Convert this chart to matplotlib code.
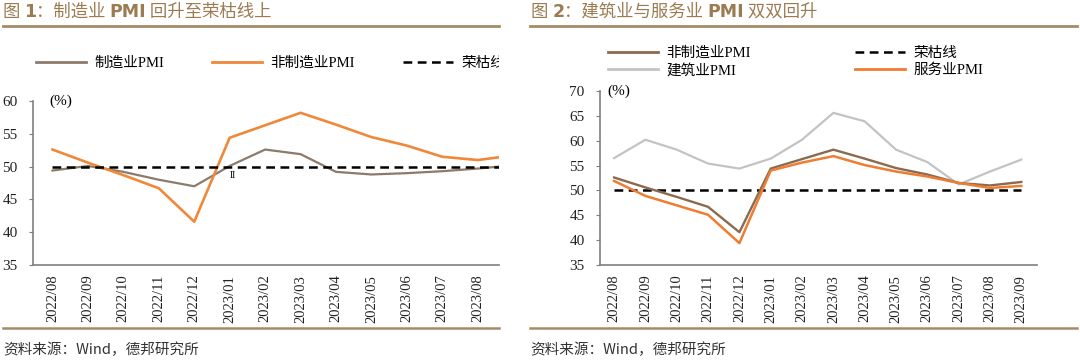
import matplotlib
matplotlib.use("Agg")
import matplotlib.pyplot as plt
from matplotlib.lines import Line2D
from matplotlib.transforms import Bbox

plt.rcParams['font.family'] = ['Liberation Serif', 'Noto Sans CJK SC']

# 数据
months_left = ["2022/08", "2022/09", "2022/10", "2022/11", "2022/12", "2023/01", "2023/02",
               "2023/03", "2023/04", "2023/05", "2023/06", "2023/07", "2023/08"]
months_right = months_left + ["2023/09"]

mfg_pmi = [49.4, 50.1, 49.2, 48.0, 47.0, 50.1, 52.6, 51.9, 49.2, 48.8, 49.0, 49.3, 49.7, 50.2]
non_mfg_pmi = [52.6, 50.6, 48.7, 46.7, 41.6, 54.4, 56.3, 58.2, 56.4, 54.5, 53.2, 51.5, 51.0, 51.7]
constr_pmi = [56.5, 60.2, 58.2, 55.4, 54.4, 56.4, 60.2, 65.6, 63.9, 58.2, 55.7, 51.2, 53.8, 56.2]
serv_pmi = [51.9, 48.9, 47.0, 45.1, 39.4, 54.0, 55.6, 56.9, 55.1, 53.8, 52.8, 51.5, 50.5, 50.9]
boom_line = [50] * 14

C_MFG = "#8c7b6b"
C_ORANGE = "#f0883a"
C_NONMFG = "#8b6a4f"
C_CONSTR = "#c3c3c3"
C_SERV = "#ee7d31"
C_TITLE = "#9b7b52"
C_RULE = "#a58c68"
CJK = ['Noto Sans CJK SC', 'DejaVu Sans']

W, H = 1080, 360
fig = plt.figure(figsize=(10.8, 3.6), dpi=100)


def px_box(x0, x1, ytop, ybot):
    return [x0 / W, 1 - ybot / H, (x1 - x0) / W, (ybot - ytop) / H]


def rule(x0, x1, y, lw=2.0):
    fig.add_artist(Line2D([x0 / W, x1 / W], [1 - y / H, 1 - y / H], transform=fig.transFigure,
                          color=C_RULE, lw=lw))


def title(ax, x, y, parts):
    prev = fig.text(x / W, 1 - y / H, parts[0][0], fontsize=12.5, color=C_TITLE,
                    family=CJK, va='center', fontweight='bold' if parts[0][1] else 'normal')
    for txt, bold in parts[1:]:
        prev = ax.annotate(txt, xy=(1, 0.5), xycoords=prev, va='center', ha='left',
                           fontsize=12.5, color=C_TITLE, family=CJK if not bold else ['DejaVu Sans'],
                           fontweight='bold' if bold else 'normal', annotation_clip=False)


def style_axes(ax, ymin, ymax, labels, xmax):
    ax.set_ylim(ymin, ymax)
    ax.set_yticks(range(ymin, ymax + 1, 5))
    ax.set_xlim(-0.55, xmax)
    ax.set_xticks(range(len(labels)))
    ax.set_xticklabels(labels, rotation=90, fontsize=10.5)
    for s in ['top', 'right']:
        ax.spines[s].set_visible(False)
    for s in ['left', 'bottom']:
        ax.spines[s].set_color("#7f7f7f")
        ax.spines[s].set_linewidth(1.2)
    ax.tick_params(axis='y', length=3, color="#7f7f7f", labelsize=11, pad=8, labelcolor="#222222")
    ax.tick_params(axis='x', length=0, pad=7, labelcolor="#222222")


def one_legend(handles, labels, x, y, spacing=0.3):
    lg = fig.legend(handles=handles, labels=labels, loc='center left',
                    bbox_to_anchor=(x / W, 1 - y / H), bbox_transform=fig.transFigure,
                    frameon=False, borderpad=0, borderaxespad=0, handlelength=3.4,
                    handletextpad=0.6, labelspacing=spacing, prop={'family': ['Liberation Serif', 'Noto Sans CJK SC'], 'size': 10.5})
    return lg


# ---------------- 图1 ----------------
ax1 = fig.add_axes(px_box(33, 499, 101, 265))
x = range(len(mfg_pmi))
ax1.plot(x, mfg_pmi, color=C_MFG, lw=1.6)
ax1.plot(x, non_mfg_pmi, color=C_ORANGE, lw=1.9)
ax1.plot(x, boom_line, color="black", lw=1.8, dashes=(3.5, 2.2))
style_axes(ax1, 35, 60, months_left, 12.6)
ax1.text(0.036, 1.0, "(%)", transform=ax1.transAxes, fontsize=11, va='center')
ax1.text(5.1, 48.6, "II", fontsize=7, ha='center', va='center')

title(ax1, 3, 12, [("图 ", False), ("1", True), ("：制造业 ", False), ("PMI", True), (" 回升至荣枯线上", False)])
rule(3, 499, 26)
rule(3, 499, 328, lw=1.8)
fig.text(3 / W, 1 - 350 / H, "资料来源：Wind，德邦研究所", family=CJK, fontsize=10.5,
         color="#333333", va='center')

h_mfg = Line2D([], [], color=C_MFG, lw=2)
h_or = Line2D([], [], color=C_ORANGE, lw=2)
h_dash = Line2D([], [], color="black", lw=1.8, dashes=(3.5, 2.2))
one_legend([h_mfg], ["制造业PMI"], 36, 63)
one_legend([h_or], ["非制造业PMI"], 212, 63)
lg3 = one_legend([h_dash], ["荣枯线"], 403, 63)
clip = Bbox.from_extents(0, 0, 499, H)
for t in lg3.get_texts():
    t.set_clip_box(clip)
    t.set_clip_on(True)

# ---------------- 图2 ----------------
ax2 = fig.add_axes(px_box(600, 1037, 91, 265))
x2 = range(len(months_right))
ax2.plot(x2, constr_pmi, color=C_CONSTR, lw=1.6)
ax2.plot(x2, boom_line, color="black", lw=1.8, dashes=(3.5, 2.2))
ax2.plot(x2, non_mfg_pmi, color=C_NONMFG, lw=1.7)
ax2.plot(x2, serv_pmi, color=C_SERV, lw=1.8)
style_axes(ax2, 35, 70, months_right, 13.5)
ax2.set_xlim(-0.45, 13.5)
ax2.text(0.016, 1.0, "(%)", transform=ax2.transAxes, fontsize=11, va='center')

title(ax2, 531, 12, [("图 ", False), ("2", True), ("：建筑业与服务业 ", False), ("PMI", True), (" 双双回升", False)])
rule(530, 1077, 26)
rule(530, 1077, 328, lw=1.8)
fig.text(530 / W, 1 - 350 / H, "资料来源：Wind，德邦研究所", family=CJK, fontsize=10.5,
         color="#333333", va='center')

h_nm = Line2D([], [], color=C_NONMFG, lw=2)
h_cs = Line2D([], [], color=C_CONSTR, lw=2)
h_sv = Line2D([], [], color=C_SERV, lw=2)
one_legend([h_nm, h_cs], ["非制造业PMI", "建筑业PMI"], 608, 62, spacing=0.25)
one_legend([h_dash, h_sv], ["荣枯线", "服务业PMI"], 855, 62, spacing=0.25)

fig.savefig("out.png", dpi=100)
